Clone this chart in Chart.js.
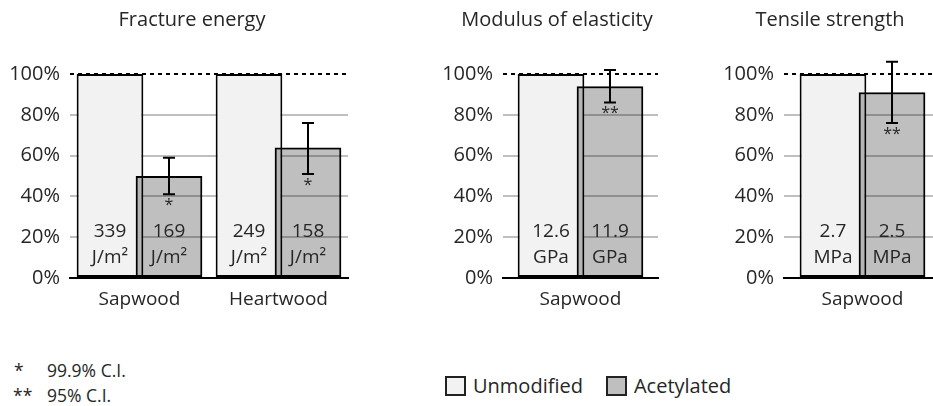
<!DOCTYPE html>
<html>
<head>
<meta charset="utf-8">
<script src="https://cdn.jsdelivr.net/npm/chart.js@4"></script>
<style>
  html, body { margin: 0; padding: 0; background: #fff; overflow: hidden; }
  body { width: 933px; height: 406px; position: relative; font-family: "Open Sans", sans-serif; color: #262626; }
  .panel { position: absolute; top: 0; }
  .title { position: absolute; top: 7px; font-size: 20px; line-height: 24px; white-space: nowrap; transform: translateX(-50%); }
  .foot { position: absolute; left: 0; font-size: 17.5px; white-space: nowrap; }
  .foot span { position: absolute; white-space: nowrap; }
  .legend { position: absolute; top: 372px; left: 445px; font-size: 20px; display: flex; align-items: center; white-space: nowrap; }
  .legend .box { width: 17px; height: 16px; border: 2px solid #222; margin-right: 7px; }
  .legend .item { display: flex; align-items: center; margin-right: 23px; }
</style>
</head>
<body>
<div class="panel" style="left:0px"><canvas id="c1" width="384" height="320"></canvas></div>
<div class="panel" style="left:433px"><canvas id="c2" width="248" height="320"></canvas></div>
<div class="panel" style="left:714px"><canvas id="c3" width="232" height="320"></canvas></div>

<div class="title" style="left:192px">Fracture energy</div>
<div class="title" style="left:557px">Modulus of elasticity</div>
<div class="title" style="left:830px">Tensile strength</div>

<div class="foot" style="top:358px"><span style="left:14px">*</span><span style="left:47px">99.9% C.I.</span></div>
<div class="foot" style="top:383px"><span style="left:13px">**</span><span style="left:47px">95% C.I.</span></div>

<div class="legend">
  <div class="item"><div class="box" style="background:#f2f2f2"></div>Unmodified</div>
  <div class="item"><div class="box" style="background:#bfbfbf"></div>Acetylated</div>
</div>

<script>
// Fracture energy
const fractureLabels = ['Sapwood', 'Heartwood'];
const fractureUnmod = [100, 100];
const fractureAcet = [50, 64];
const fractureLow = [41, 51];
const fractureHigh = [59, 76];
const fractureUnmodText = ['339', '249'];
const fractureAcetText = ['169', '158'];
const fractureSig = ['*', '*'];

// Modulus of elasticity
const modulusLabels = ['Sapwood'];
const modulusUnmod = [100];
const modulusAcet = [94];
const modulusLow = [86];
const modulusHigh = [102];
const modulusUnmodText = ['12.6'];
const modulusAcetText = ['11.9'];
const modulusSig = ['**'];

// Tensile strength
const tensileLabels = ['Sapwood'];
const tensileUnmod = [100];
const tensileAcet = [91];
const tensileLow = [76];
const tensileHigh = [106];
const tensileUnmodText = ['2.7'];
const tensileAcetText = ['2.5'];
const tensileSig = ['**'];

const yTicks = [0, 20, 40, 60, 80, 100];

const FONT = '"Open Sans", sans-serif';
const TEXT = '#262626';

// draw acetylated bars on top of unmodified ones, then error bars and labels
const overlayPlugin = {
    id: 'overlay',
    beforeDatasetDraw(chart, args) {
        if (args.index === 1) return false;
    },
    afterDatasetsDraw(chart, args, opts) {
        const ctx = chart.ctx;
        const y = chart.scales.y;
        const meta0 = chart.getDatasetMeta(0);
        const meta1 = chart.getDatasetMeta(1);
        meta1.controller.draw();

        ctx.save();
        ctx.fillStyle = TEXT;
        ctx.font = '19px ' + FONT;
        ctx.textAlign = 'center';
        ctx.textBaseline = 'middle';
        const bottom = chart.chartArea.bottom;
        meta0.data.forEach((bar, i) => {
            ctx.fillText(opts.unmodText[i], bar.x, bottom - 46);
            ctx.fillText(opts.unit, bar.x, bottom - 20);
        });
        meta1.data.forEach((bar, i) => {
            ctx.fillText(opts.acetText[i], bar.x, bottom - 46);
            ctx.fillText(opts.unit, bar.x, bottom - 20);

            // error bar
            const yl = y.getPixelForValue(opts.low[i]);
            const yh = y.getPixelForValue(opts.high[i]);
            ctx.strokeStyle = '#000';
            ctx.lineWidth = 2;
            ctx.beginPath();
            ctx.moveTo(bar.x, yl); ctx.lineTo(bar.x, yh);
            ctx.moveTo(bar.x - 6, yl); ctx.lineTo(bar.x + 6, yl);
            ctx.moveTo(bar.x - 6, yh); ctx.lineTo(bar.x + 6, yh);
            ctx.stroke();

            ctx.font = '16px ' + FONT;
            ctx.textBaseline = 'top';
            ctx.fillText(opts.sig[i], bar.x, yl + 3);
            ctx.font = '19px ' + FONT;
            ctx.textBaseline = 'middle';
        });
        ctx.restore();
    }
};

const isTop = c => c.tick && c.tick.value === 100;

function makeChart(id, labels, unmod, acet, low, high, unmodText, acetText, unit, sig, catPct, padRight) {
    return new Chart(document.getElementById(id), {
        type: 'bar',
        data: {
            labels: labels,
            datasets: [
                {
                    label: 'Unmodified',
                    data: unmod,
                    backgroundColor: '#f2f2f2',
                    borderColor: '#000',
                    borderWidth: 2,
                    borderSkipped: false
                },
                {
                    label: 'Acetylated',
                    data: acet,
                    backgroundColor: 'rgba(0,0,0,0.25)',
                    borderColor: '#000',
                    borderWidth: 2,
                    borderSkipped: false
                }
            ]
        },
        options: {
            responsive: false,
            animation: false,
            devicePixelRatio: 1,
            categoryPercentage: catPct,
            barPercentage: 1.13,
            layout: { padding: { left: 0, right: padRight, top: 74, bottom: 0 } },
            scales: {
                x: {
                    grid: { display: false, drawTicks: false },
                    border: { display: true, color: '#000', width: 2 },
                    ticks: { color: TEXT, font: { family: FONT, size: 19 }, padding: 10 },
                    afterFit(scale) { scale.height = 42; }
                },
                y: {
                    min: 0,
                    max: 100,
                    afterBuildTicks(scale) { scale.ticks = yTicks.map(v => ({ value: v })); },
                    grid: {
                        drawTicks: false,
                        color: c => isTop(c) ? '#000' : (c.tick && c.tick.value === 0 ? 'rgba(0,0,0,0)' : '#bfbfbf'),
                        lineWidth: 2
                    },
                    border: {
                        display: false,
                        dash: c => isTop(c) ? [4, 4] : []
                    },
                    ticks: {
                        color: TEXT,
                        font: { family: FONT, size: 20 },
                        padding: 10,
                        callback: v => v + '%'
                    },
                    afterFit(scale) { scale.width = 70; }
                }
            },
            plugins: {
                legend: { display: false },
                tooltip: { enabled: false },
                title: { display: false },
                overlay: { unmodText, acetText, unit, low, high, sig }
            }
        },
        plugins: [overlayPlugin]
    });
}

makeChart('c1', fractureLabels, fractureUnmod, fractureAcet, fractureLow, fractureHigh,
    fractureUnmodText, fractureAcetText, 'J/m²', fractureSig, 0.849, 36);
makeChart('c2', modulusLabels, modulusUnmod, modulusAcet, modulusLow, modulusHigh,
    modulusUnmodText, modulusAcetText, 'GPa', modulusSig, 0.761, 23);
makeChart('c3', tensileLabels, tensileUnmod, tensileAcet, tensileLow, tensileHigh,
    tensileUnmodText, tensileAcetText, 'MPa', tensileSig, 0.752, 5);
</script>
</body>
</html>
